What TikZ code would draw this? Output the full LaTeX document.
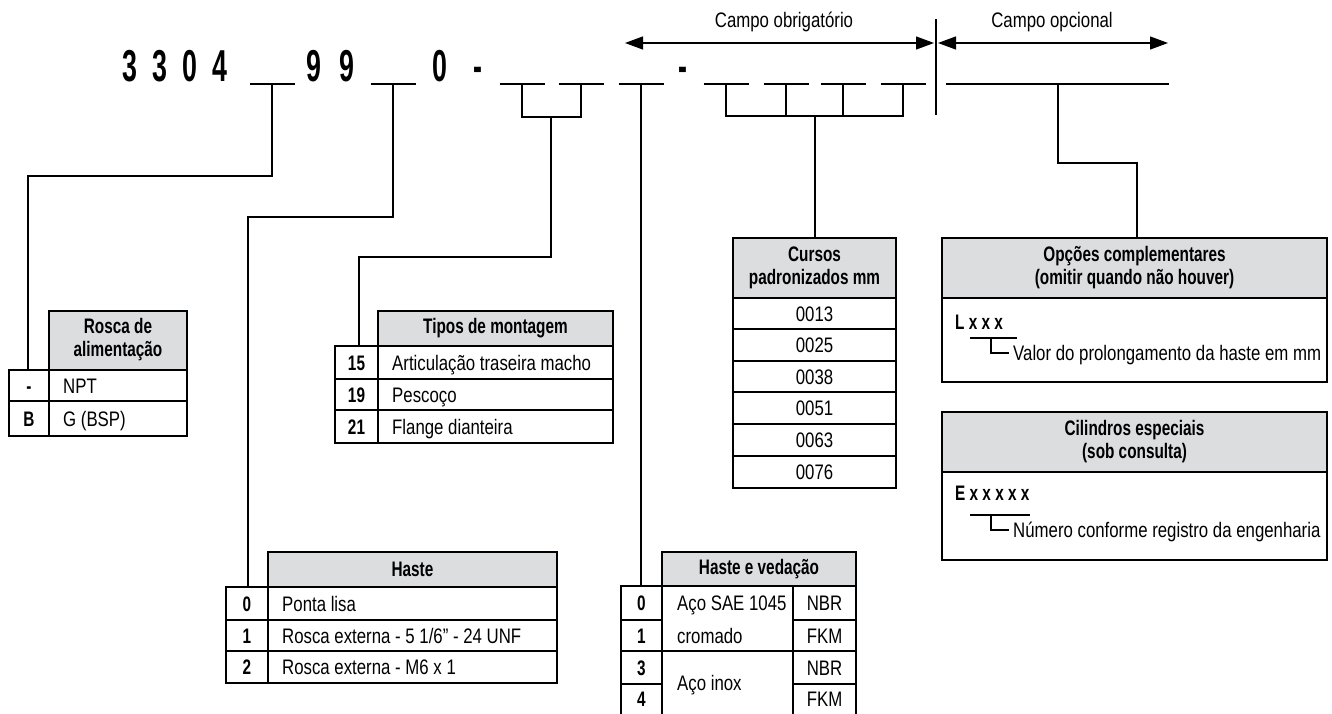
\documentclass[tikz,border=0pt]{standalone}
\usepackage{fontspec}
\setmainfont{Liberation Sans}[FakeStretch=0.8,BoldFeatures={FakeStretch=0.73}]
\newfontfamily\codefont{Liberation Sans}[FakeStretch=0.6,BoldFeatures={FakeStretch=0.6}]
\usetikzlibrary{arrows.meta}
\definecolor{hdgray}{RGB}{220,221,223}
\newcommand{\cellfont}{\fontsize{21}{23}\selectfont}

\begin{document}
\begin{tikzpicture}[x=1pt,y=-1pt,
    cell/.style={font=\cellfont,inner sep=0pt,text height=15pt,text depth=0pt},
    num/.style={cell,font=\cellfont\bfseries},
    head/.style={font=\cellfont\bfseries,align=center,inner sep=0pt},
    code/.style={font=\codefont\bfseries\fontsize{44.7}{46}\selectfont,inner sep=0pt,anchor=base},
    slot/.style={line width=2.4pt},
    link/.style={line width=1.2pt},
    frame/.style={line width=2.5pt},
    rule/.style={line width=1.2pt},
    dim/.style={line width=1.2pt,{Triangle[length=18pt,width=13pt]}-{Triangle[length=18pt,width=13pt]}}]
  \useasboundingbox (0,0) rectangle (1332,714);

  %% code line
  \foreach \c [count=\i] in {3,3,0,4}
    \node[code] (c\i) at (100+30*\i,82) {\c};
  \node[code] (c5) at (314,82) {9};
  \node[code] (c6) at (347,82) {9};
  \node[code] (c7) at (440,82) {0};
  \node[code] (d1) at (478,82) {-};
  \node[code] (d2) at (683,82) {-};
  \foreach \n/\x in {1/272,2/393,3/522,4/581,5/641,6/726,7/786,8/843,9/903} {
    \coordinate (s\n) at (\x,84);
    \draw[slot] (\x-22.5,84) -- (\x+22.5,84);
  }
  \draw[slot] (946,84) -- (1169,84);
  \coordinate (lopt) at (1058,84);

  %% fields
  \node[cell] (obrig) at (784,20) {Campo obrigatório};
  \node[cell] (opcio) at (1052,20) {Campo opcional};
  \coordinate (ob-l) at (625,43);
  \coordinate (ob-r) at (934,43);
  \coordinate (op-l) at (938,43);
  \coordinate (op-r) at (1168,43);
  \draw[dim] (ob-l) -- (ob-r);
  \draw[dim] (op-l) -- (op-r);
  \coordinate (sep-t) at (936,19);
  \coordinate (sep-b) at (936,115);
  \draw[link] (sep-t) -- (sep-b);

  %% table entries
  \coordinate (rosca-in) at (28,370);
  \coordinate (haste-in) at (248,587);
  \coordinate (tipos-in) at (359,346);
  \coordinate (hv-in) at (641,586);
  \coordinate (cursos-in) at (815,238);
  \coordinate (opc-in) at (1137,238);
  \coordinate (b34) at (551,117);
  \coordinate (b69) at (815,116);

  %% connectors
  \draw[link] (s1) -- ++(0,92) -| (rosca-in);
  \draw[link] (s2) -- ++(0,133) -| (haste-in);
  \draw[link] (s3) -- ++(0,33) -| (s4);
  \draw[link] (b34) -- ++(0,140) -| (tipos-in);
  \draw[link] (s5) -- (hv-in);
  \draw[link] (s6) -- ++(0,32) -| (s9);
  \draw[link] (s7) -- ++(0,32);
  \draw[link] (s8) -- ++(0,32);
  \draw[link] (b69) -- (cursos-in);
  \draw[link] (lopt) -- ++(0,79) -| (opc-in);

  %% Rosca de alimentacao
  \fill[hdgray] (49,311) rectangle (187,370);
  \draw[frame] (49,311) rectangle (187,370);
  \draw[frame] (9,370) rectangle (187,436);
  \draw[frame] (49,370) -- (49,436);
  \draw[rule] (9,401) -- (187,401);
  \node[head] (rosca) at (118,340) {Rosca de\\alimentação};
  \node[num] (r1) at (29,385.5) {-};
  \node[num] (r2) at (29,418.5) {B};
  \node[cell,anchor=west] (r1t) at (63,385.5) {NPT};
  \node[cell,anchor=west] (r2t) at (63,418.5) {G (BSP)};

  %% Tipos de montagem
  \fill[hdgray] (378,311) rectangle (613,346);
  \draw[frame] (378,311) rectangle (613,346);
  \draw[frame] (335,346) rectangle (613,443);
  \draw[frame] (378,346) -- (378,443);
  \draw[rule] (335,379) -- (613,379) (335,410) -- (613,410);
  \node[head] (tipos) at (495.5,328.5) {Tipos de montagem};
  \node[num] (t1) at (356.5,362.5) {15};
  \node[num] (t2) at (356.5,394.5) {19};
  \node[num] (t3) at (356.5,426.5) {21};
  \node[cell,anchor=west] (t1t) at (392,362.5) {Articulação traseira macho};
  \node[cell,anchor=west] (t2t) at (392,394.5) {Pescoço};
  \node[cell,anchor=west] (t3t) at (392,426.5) {Flange dianteira};

  %% Cursos padronizados
  \fill[hdgray] (733,238) rectangle (896,298);
  \draw[frame] (733,238) rectangle (896,298);
  \draw[frame] (733,298) rectangle (896,488);
  \foreach \y in {329,361,392,424,456}
    \draw[rule] (733,\y) -- (896,\y);
  \node[head] (cursos) at (814.5,268) {Cursos\\padronizados mm};
  \foreach \v/\y [count=\i] in {0013/313.5,0025/345,0038/376.5,0051/408,0063/440,0076/472}
    \node[cell] (k\i) at (814.5,\y) {\v};

  %% Haste
  \fill[hdgray] (268,552) rectangle (557,587);
  \draw[frame] (268,552) rectangle (557,587);
  \draw[frame] (226,587) rectangle (557,683);
  \draw[frame] (268,587) -- (268,683);
  \draw[rule] (226,620) -- (557,620) (226,651) -- (557,651);
  \node[head] (haste) at (412.5,569.5) {Haste};
  \node[num] (h1) at (247,603.5) {0};
  \node[num] (h2) at (247,635.5) {1};
  \node[num] (h3) at (247,667) {2};
  \node[cell,anchor=west] (h1t) at (282,603.5) {Ponta lisa};
  \node[cell,anchor=west] (h2t) at (282,635.5) {Rosca externa - 5 1/6" - 24 UNF};
  \node[cell,anchor=west] (h3t) at (282,667) {Rosca externa - M6 x 1};

  %% Haste e vedacao
  \fill[hdgray] (662,552) rectangle (856,586);
  \draw[frame] (662,552) rectangle (856,586);
  \draw[frame] (621,586) rectangle (856,716);
  \draw[frame] (662,586) -- (662,716);
  \draw[frame] (621,651) -- (856,651);
  \draw[rule] (793,586) -- (793,716);
  \draw[rule] (621,620) -- (662,620) (793,620) -- (856,620);
  \draw[rule] (621,684) -- (662,684) (793,684) -- (856,684);
  \node[head] (hv) at (759,569) {Haste e vedação};
  \node[num] (v1) at (641.5,603) {0};
  \node[num] (v2) at (641.5,635.5) {1};
  \node[num] (v3) at (641.5,667.5) {3};
  \node[num] (v4) at (641.5,699) {4};
  \node[cell,anchor=west] (v1t) at (677,603) {Aço SAE 1045};
  \node[cell,anchor=west] (v2t) at (677,635.5) {cromado};
  \node[cell,anchor=west] (v3t) at (677,682.5) {Aço inox};
  \node[cell] (v1s) at (824.5,603) {NBR};
  \node[cell] (v2s) at (824.5,635.5) {FKM};
  \node[cell] (v3s) at (824.5,667.5) {NBR};
  \node[cell] (v4s) at (824.5,699) {FKM};

  %% Opcoes complementares
  \fill[hdgray] (942,238) rectangle (1327,298);
  \draw[frame] (942,238) rectangle (1327,298);
  \draw[frame] (942,298) rectangle (1327,382);
  \node[head] (opc) at (1134.5,268) {Opções complementares\\(omitir quando não houver)};
  \node[num,anchor=west] (lx) at (955,322) {L x x x};
  \draw[slot,line width=2pt] (970,338) -- (1017,338);
  \draw[link] (991,338) |- (1009,353);
  \node[cell,anchor=west] (lxt) at (1013,353) {Valor do prolongamento da haste em mm};

  %% Cilindros especiais
  \fill[hdgray] (942,412) rectangle (1327,472);
  \draw[frame] (942,412) rectangle (1327,472);
  \draw[frame] (942,472) rectangle (1327,560);
  \node[head] (cil) at (1134.5,442) {Cilindros especiais\\(sob consulta)};
  \node[num,anchor=west] (ex) at (955,493) {E x x x x x};
  \draw[slot,line width=2pt] (970,515) -- (1030,515);
  \draw[link] (991,515) |- (1009,530);
  \node[cell,anchor=west] (ext) at (1013,530) {Número conforme registro da engenharia};
\end{tikzpicture}
\end{document}
